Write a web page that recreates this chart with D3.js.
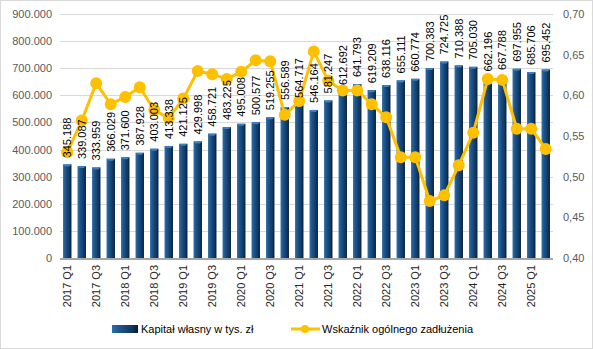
<!DOCTYPE html>
<html>
<head>
<meta charset="utf-8">
<script src="https://cdn.jsdelivr.net/npm/d3@7"></script>
<style>
  html, body { margin: 0; padding: 0; background: #fff; }
  svg { display: block; font-family: "Liberation Sans", Arial, sans-serif; }
</style>
</head>
<body>
<div id="chart"></div>
<script>
// kwartały 2017 Q1 - 2025 Q2
const kwartaly = [];
for (let r = 2017; r <= 2025; r++) {
  for (let q = 1; q <= 4; q++) {
    if (r === 2025 && q > 2) break;
    kwartaly.push(`${r} Q${q}`);
  }
}

// kapitał własny w tys. zł
const kapital = [
  345188, 339087, 333959, 366029, 371600, 387928, 403003, 413338, 421125,
  429998, 458721, 483225, 495008, 500577, 519255, 556589, 564717, 546164,
  581247, 612692, 641793, 619209, 638116, 655111, 660774, 700383, 724725,
  710388, 705030, 662196, 667788, 697955, 685706, 695452
];

// wskaźnik ogólnego zadłużenia
const wskaznik = [
  0.530, 0.569, 0.615, 0.589, 0.598, 0.610, 0.582, 0.572, 0.596,
  0.630, 0.626, 0.620, 0.629, 0.643, 0.642, 0.576, 0.593, 0.654,
  0.618, 0.606, 0.606, 0.589, 0.573, 0.524, 0.524, 0.470, 0.477,
  0.514, 0.554, 0.620, 0.619, 0.559, 0.559, 0.534
];

const lewyTicks = d3.range(0, 900001, 100000);
const prawyTicks = [0.40, 0.45, 0.50, 0.55, 0.60, 0.65, 0.70];

const W = 593, H = 349;
const plot = { left: 60, right: 553, top: 14, bottom: 258 };

const dane = kwartaly.map((k, i) => ({ k, kap: kapital[i], w: wskaznik[i] }));

const svg = d3.select("#chart").append("svg")
  .attr("width", W)
  .attr("height", H);

// ramka wykresu
svg.append("rect")
  .attr("x", 0.5).attr("y", 0.5)
  .attr("width", W - 1).attr("height", H - 1)
  .attr("fill", "#fff")
  .attr("stroke", "#d9d9d9");

const defs = svg.append("defs");
const grad = defs.append("linearGradient")
  .attr("id", "slupek")
  .attr("x1", "0%").attr("x2", "100%")
  .attr("y1", "0%").attr("y2", "0%");
[["0%", "#2f6ea8"], ["35%", "#1b5187"], ["80%", "#0f355c"], ["100%", "#061a30"]]
  .forEach(([o, c]) => grad.append("stop").attr("offset", o).attr("stop-color", c));

const x = d3.scaleBand()
  .domain(kwartaly)
  .range([plot.left, plot.right])
  .paddingInner(0.42)
  .paddingOuter(0.21);

const yL = d3.scaleLinear().domain([0, 900000]).range([plot.bottom, plot.top]);
const yR = d3.scaleLinear().domain([0.40, 0.70]).range([plot.bottom, plot.top]);

const fmtTys = v => d3.format(",")(v).replace(/,/g, ".");
const fmtW = v => d3.format(".2f")(v).replace(".", ",");

// siatka
svg.append("g")
  .selectAll("line")
  .data(lewyTicks.slice(1))
  .join("line")
  .attr("x1", plot.left).attr("x2", plot.right)
  .attr("y1", d => Math.round(yL(d)) + 0.5)
  .attr("y2", d => Math.round(yL(d)) + 0.5)
  .attr("stroke", "#d9d9d9");

// oś lewa
const axL = svg.append("g")
  .attr("transform", `translate(${plot.left - 8},0)`)
  .call(d3.axisLeft(yL).tickValues(lewyTicks).tickFormat(fmtTys).tickSize(0).tickPadding(0));
axL.select(".domain").remove();
axL.selectAll("text").attr("fill", "#595959").style("font-size", "11px");

// oś prawa
const axR = svg.append("g")
  .attr("transform", `translate(${plot.right + 10},0)`)
  .call(d3.axisRight(yR).tickValues(prawyTicks).tickFormat(fmtW).tickSize(0).tickPadding(0));
axR.select(".domain").remove();
axR.selectAll("text").attr("fill", "#595959").style("font-size", "11px");

// słupki
const bw = x.bandwidth();
svg.append("g")
  .selectAll("rect")
  .data(dane)
  .join("rect")
  .attr("x", d => x(d.k))
  .attr("y", d => yL(d.kap))
  .attr("width", bw)
  .attr("height", d => plot.bottom - yL(d.kap))
  .attr("fill", "url(#slupek)");

// jasny "daszek" słupka
svg.append("g")
  .selectAll("path")
  .data(dane)
  .join("path")
  .attr("d", d => {
    const x0 = x(d.k), y0 = yL(d.kap);
    return `M${x0},${y0}L${x0 + bw},${y0}L${x0 + bw - 2},${y0 + 2}L${x0 + 2},${y0 + 2}Z`;
  })
  .attr("fill", "#3d7fc0");

// linia bazowa
svg.append("line")
  .attr("x1", plot.left).attr("x2", plot.right)
  .attr("y1", plot.bottom + 1).attr("y2", plot.bottom + 1)
  .attr("stroke", "#a6a6a6")
  .attr("stroke-width", 2);

// etykiety osi X (co drugi kwartał)
svg.append("g")
  .selectAll("text")
  .data(kwartaly.filter((d, i) => i % 2 === 0))
  .join("text")
  .attr("transform", d => `translate(${x(d) + bw / 2 + 4},265) rotate(-90)`)
  .attr("text-anchor", "end")
  .attr("fill", "#262626")
  .style("font-size", "11px")
  .text(d => d);

// linia wskaźnika
const linia = d3.line()
  .x(d => x(d.k) + bw / 2)
  .y(d => yR(d.w));

svg.append("path")
  .datum(dane)
  .attr("d", linia)
  .attr("fill", "none")
  .attr("stroke", "#ffc000")
  .attr("stroke-width", 3)
  .attr("stroke-linejoin", "round");

svg.append("g")
  .selectAll("circle")
  .data(dane)
  .join("circle")
  .attr("cx", d => x(d.k) + bw / 2)
  .attr("cy", d => yR(d.w))
  .attr("r", 6)
  .attr("fill", "#ffc000");

// etykiety wartości słupków
svg.append("g")
  .selectAll("text")
  .data(dane)
  .join("text")
  .attr("transform", d => `translate(${x(d.k) + bw / 2 + 4},${yL(d.kap) - 7}) rotate(-90)`)
  .attr("text-anchor", "start")
  .attr("fill", "#000")
  .style("font-size", "11px")
  .text(d => fmtTys(d.kap));

// legenda
const lg = svg.append("g");
lg.append("rect")
  .attr("x", 112).attr("y", 325)
  .attr("width", 26).attr("height", 8)
  .attr("fill", "url(#slupek)");
lg.append("text")
  .attr("x", 141).attr("y", 333)
  .attr("fill", "#000")
  .style("font-size", "11px")
  .text("Kapitał własny w tys. zł");

lg.append("line")
  .attr("x1", 291).attr("x2", 320)
  .attr("y1", 329).attr("y2", 329)
  .attr("stroke", "#ffc000")
  .attr("stroke-width", 3);
lg.append("circle")
  .attr("cx", 305).attr("cy", 329)
  .attr("r", 4)
  .attr("fill", "#ffc000");
lg.append("text")
  .attr("x", 322).attr("y", 333)
  .attr("fill", "#000")
  .style("font-size", "11px")
  .text("Wskaźnik ogólnego zadłużenia");
</script>
</body>
</html>
